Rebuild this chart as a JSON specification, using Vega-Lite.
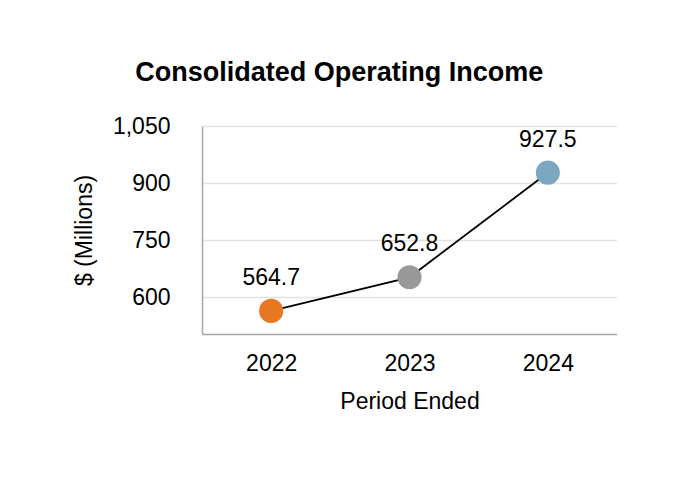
{
  "$schema": "https://vega.github.io/schema/vega-lite/v6.json",
  "width": 415,
  "height": 208,
  "padding": {"left": 73, "top": 59, "right": 0, "bottom": 0},
  "autosize": {"type": "pad"},
  "background": "white",
  "title": {"text": "Consolidated Operating Income", "fontSize": 27, "font": "Liberation Sans", "fontWeight": "bold", "anchor": "middle", "frame": "bounds", "offset": 28, "dx": -6, "color": "black"},
  "data": {"values": [
    {"year": "2022", "value": 564.7},
    {"year": "2023", "value": 652.8},
    {"year": "2024", "value": 927.5}
  ]},
  "encoding": {
    "x": {"field": "year", "type": "ordinal", "scale": {"type": "point", "padding": 0.5},
      "axis": {"labelAngle": 0, "title": "Period Ended", "ticks": false, "labelPadding": 18, "titlePadding": 15, "domainColor": "#A6A6A6", "domainWidth": 1.5, "labelFontSize": 23, "titleFontSize": 23, "labelFont": "Liberation Sans", "titleFont": "Liberation Sans", "titleFontWeight": "normal", "labelColor": "black", "titleColor": "black", "grid": false}},
    "y": {"field": "value", "type": "quantitative", "scale": {"domain": [504, 1050], "nice": false, "zero": false},
      "axis": {"values": [600, 750, 900, 1050], "format": ",.0f", "title": "$ (Millions)", "ticks": false, "labelPadding": 32, "titlePadding": 16, "domainColor": "#A6A6A6", "domainWidth": 1.5, "gridColor": "#E3E3E3", "gridWidth": 1.5, "labelFontSize": 23, "titleFontSize": 23, "labelFont": "Liberation Sans", "titleFont": "Liberation Sans", "titleFontWeight": "normal", "labelColor": "black", "titleColor": "black"}}
  },
  "layer": [
    {"mark": {"type": "line", "color": "black", "strokeWidth": 1.8}},
    {"mark": {"type": "circle", "size": 580, "opacity": 1},
      "encoding": {"color": {"field": "year", "type": "nominal", "scale": {"range": ["#E87722", "#999999", "#7BA7C0"]}, "legend": null}}},
    {"mark": {"type": "text", "dy": -33, "fontSize": 23, "font": "Liberation Sans", "color": "black"},
      "encoding": {"text": {"field": "value", "type": "quantitative", "format": ".1f"}}}
  ],
  "config": {"view": {"stroke": null}}
}
